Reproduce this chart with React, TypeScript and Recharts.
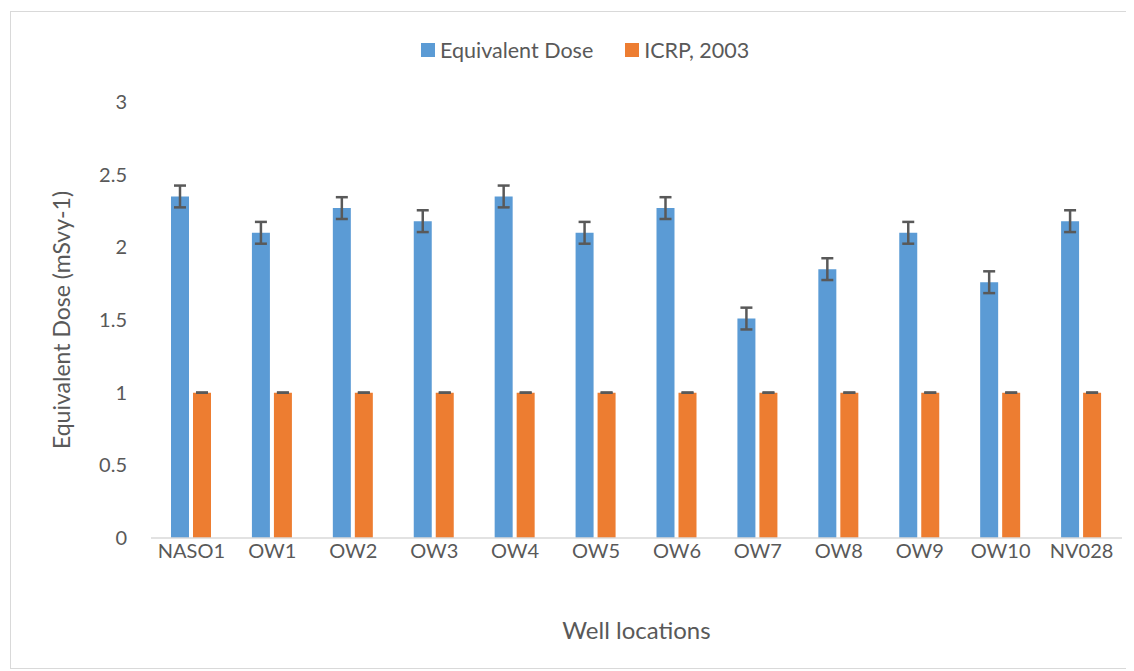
import { Bar, BarChart, ErrorBar, Label, Legend, XAxis, YAxis } from "recharts";

const locations = ["NASO1", "OW1", "OW2", "OW3", "OW4", "OW5", "OW6", "OW7", "OW8", "OW9", "OW10", "NV028"];
const equivalentDose = [2.35, 2.1, 2.27, 2.18, 2.35, 2.1, 2.27, 1.51, 1.85, 2.1, 1.76, 2.18];
const doseError = [0.075, 0.075, 0.075, 0.075, 0.075, 0.075, 0.075, 0.075, 0.075, 0.075, 0.075, 0.075];
const icrpLimit = [1, 1, 1, 1, 1, 1, 1, 1, 1, 1, 1, 1];
const icrpError = [0, 0, 0, 0, 0, 0, 0, 0, 0, 0, 0, 0];
const yTicks = [0, 0.5, 1, 1.5, 2, 2.5, 3];

const BLUE = "#5b9bd5";
const ORANGE = "#ed7d31";
const TEXT = "#595959";
const FONT = "Lato, 'Open Sans', sans-serif";

// zero-width error is passed as [low, high] so recharts still draws the cap
const data = locations.map((loc, i) => ({
  loc,
  dose: equivalentDose[i],
  doseErr: doseError[i],
  icrp: icrpLimit[i],
  icrpErr: [icrpError[i], icrpError[i]],
}));

function LegendBox() {
  const items = [
    { name: "Equivalent Dose", color: BLUE },
    { name: "ICRP, 2003", color: ORANGE },
  ];
  return (
    <div style={{ display: "flex", alignItems: "center", fontFamily: FONT, fontSize: 21.5, color: TEXT, whiteSpace: "nowrap" }}>
      {items.map((it) => (
        <div key={it.name} style={{ display: "flex", alignItems: "center", marginRight: 32 }}>
          <span style={{ display: "inline-block", width: 14, height: 14, background: it.color, marginRight: 5 }} />
          <span>{it.name}</span>
        </div>
      ))}
    </div>
  );
}

export default function App() {
  return (
    <div style={{ marginLeft: 2, marginTop: 3, width: 1116, height: 656, border: "1px solid #d9d9d9", background: "#fff" }}>
      <BarChart
        width={1116}
        height={656}
        data={data}
        margin={{ top: 90, right: 5, left: 0, bottom: 10 }}
        barCategoryGap={20}
        barGap={4}
        style={{ fontFamily: FONT }}
      >
        <XAxis
          dataKey="loc"
          height={120}
          tickLine={false}
          tickSize={0}
          tickMargin={6}
          axisLine={{ stroke: "#d9d9d9", strokeWidth: 1.5 }}
          tick={{ fill: TEXT, fontSize: 20 }}
          interval={0}
        >
          <Label value="Well locations" position="insideBottom" offset={19} fill={TEXT} fontSize={24} />
        </XAxis>
        <YAxis
          domain={[0, 3]}
          ticks={yTicks}
          width={140}
          axisLine={false}
          tickLine={false}
          tickSize={0}
          tickMargin={24}
          tick={{ fill: TEXT, fontSize: 20 }}
        >
          <Label value="Equivalent Dose (mSvy-1)" angle={-90} position="center" dx={-19} fill={TEXT} fontSize={23} />
        </YAxis>
        <Legend
          verticalAlign="middle"
          align="center"
          wrapperStyle={{ top: 25, left: 410, width: 420 }}
          content={() => <LegendBox />}
        />
        <Bar dataKey="dose" name="Equivalent Dose" fill={BLUE} isAnimationActive={false}>
          <ErrorBar dataKey="doseErr" width={6} stroke={TEXT} strokeWidth={2.5} />
        </Bar>
        <Bar dataKey="icrp" name="ICRP, 2003" fill={ORANGE} isAnimationActive={false}>
          <ErrorBar dataKey="icrpErr" width={6} stroke={TEXT} strokeWidth={2.5} />
        </Bar>
      </BarChart>
    </div>
  );
}
